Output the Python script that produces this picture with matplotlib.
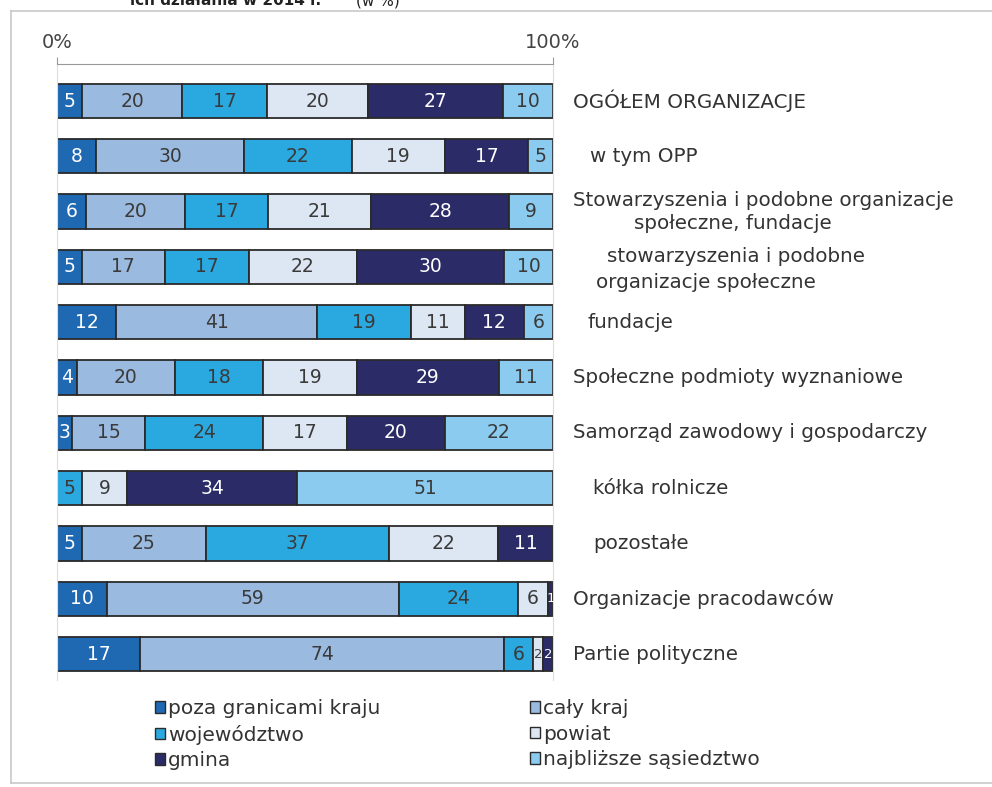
import matplotlib
matplotlib.use("Agg")
import matplotlib.pyplot as plt
from matplotlib.patches import Patch
from matplotlib.lines import Line2D
import numpy as np

###########################################################
### -------------------- DATA ------------------------------
###########################################################

categories = [
    "OGÓŁEM ORGANIZACJE",
    "w tym OPP",
    "Stowarzyszenia i podobne organizacje\nspołeczne, fundacje",
    "stowarzyszenia i podobne\norganizacje społeczne",
    "fundacje",
    "Społeczne podmioty wyznaniowe",
    "Samorząd zawodowy i gospodarczy",
    "kółka rolnicze",
    "pozostałe",
    "Organizacje pracodawców",
    "Partie polityczne",
]

series_names = ["poza granicami kraju", "cały kraj", "województwo",
                "powiat", "gmina", "najbliższe sąsiedztwo"]

poza_granicami = [5, 8, 6, 5, 12, 4, 3, 0, 5, 10, 17]
caly_kraj = [20, 30, 20, 17, 41, 20, 15, 0, 25, 59, 74]
wojewodztwo = [17, 22, 17, 17, 19, 18, 24, 5, 37, 24, 6]
powiat = [20, 19, 21, 22, 11, 19, 17, 9, 22, 6, 2]
gmina = [27, 17, 28, 30, 12, 29, 20, 34, 11, 1, 2]
najblizsze = [10, 5, 9, 10, 6, 11, 22, 51, 0, 0, 0]

tick_values = [0, 100]
tick_labels = ["0%", "100%"]

###########################################################
### -------------------- STYLE -----------------------------
###########################################################

colors = ["#1f68b2", "#9bbae0", "#2aa9e0", "#dde7f4", "#2b2b68", "#8bcbef"]
text_colors = ["white", "#3a3a3a", "#3a3a3a", "#3a3a3a", "white", "#3a3a3a"]

W, H = 992, 787
# label positions in pixels (left x, y offset from bar centre) per line
label_layout = [
    [(573, 0)],
    [(590, 0)],
    [(573, -11), (634, 12)],
    [(607, -10), (596, 16)],
    [(587, 0)],
    [(573, 0)],
    [(573, 0)],
    [(593, 0)],
    [(593, 0)],
    [(573, 0)],
    [(573, 0)],
]

plt.rcParams['font.family'] = ['DejaVu Sans']

fig = plt.figure(figsize=(W / 100, H / 100), dpi=100)
ax = fig.add_axes([57 / W, 1 - 680 / H, (553 - 57) / W, (680 - 64) / H])

data = np.array([poza_granicami, caly_kraj, wojewodztwo, powiat, gmina, najblizsze], dtype=float)
totals = data.sum(axis=0)
shares = data / totals * 100
y = np.arange(len(categories))

left = np.zeros(len(categories))
for k in range(len(series_names)):
    ax.barh(y, shares[k], left=left, height=0.62, color=colors[k],
            edgecolor="#2a2a2a", linewidth=1.3)
    for i in range(len(categories)):
        if data[k, i] > 0:
            # tiny segments get a smaller number so it stays inside
            fs = 13.5 if data[k, i] >= 3 else 9.5
            ax.text(left[i] + shares[k, i] / 2, y[i], "%d" % data[k, i],
                    ha="center", va="center", fontsize=fs, color=text_colors[k])
    left = left + shares[k]

ax.set_xlim(0, 100)
ax.set_ylim(10.47, -0.67)
ax.xaxis.tick_top()
ax.set_xticks(tick_values)
ax.set_xticklabels(tick_labels, fontsize=14, color="#444444")
ax.tick_params(axis="x", direction="out", length=5, color="#999999", pad=3.5)
ax.set_yticks([])
ax.spines["bottom"].set_visible(False)
ax.spines["top"].set_color("#999999")
for s in ["left", "right"]:
    ax.spines[s].set_color("#dddddd")

# category labels on the right
px_per_unit = (553 - 57) / 100.0
px_per_row = 55.3
for i, name in enumerate(categories):
    lines = name.split("\n")
    for (xp, dy), line in zip(label_layout[i], lines):
        ax.text((xp - 57) / px_per_unit, y[i] + dy / px_per_row, line,
                ha="left", va="center", fontsize=14.3, color="#333333", clip_on=False)

# legend, two columns
handles = [Patch(facecolor=colors[k], edgecolor="#2a2a2a", linewidth=1) for k in range(6)]
for col, x0 in [(0, 155), (1, 530)]:
    idx = [col, col + 2, col + 4]
    fig.legend([handles[k] for k in idx], [series_names[k] for k in idx],
               loc="upper left", bbox_to_anchor=(x0 / W, 1 - 699 / H),
               frameon=False, fontsize=14.5, borderpad=0, borderaxespad=0,
               handlelength=0.5, handleheight=0.5, handletextpad=0.15,
               labelspacing=0.33, labelcolor="#333333")

# frame of the box
fig.add_artist(Line2D([11 / W, 11 / W], [1 - 11 / H, 1 - 783 / H], color="#c8c8c8", lw=1.2))
fig.add_artist(Line2D([11 / W, 1], [1 - 11 / H, 1 - 11 / H], color="#c8c8c8", lw=1.2))
fig.add_artist(Line2D([11 / W, 1], [1 - 783 / H, 1 - 783 / H], color="#c8c8c8", lw=1.2))

# title above the box, cut off by the top edge like in the original
fig.text(130 / W, 1 - 5 / H, "ich działania w 2014 r.", fontsize=11, fontweight="bold",
         va="baseline", ha="left", color="#222222")
fig.text(356 / W, 1 - 5 / H, "(w %)", fontsize=11, va="baseline", ha="left", color="#222222")

fig.savefig("out.png", dpi=100)
